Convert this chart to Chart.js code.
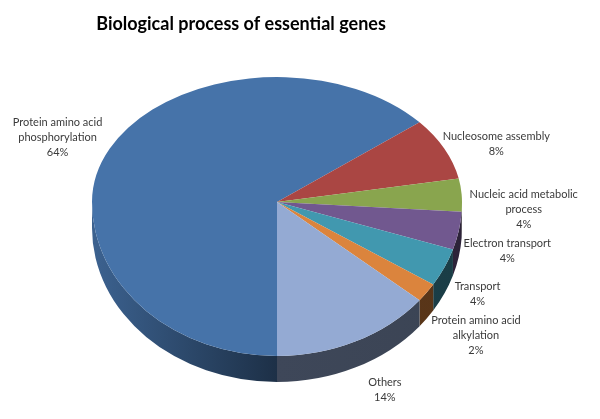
<!DOCTYPE html>
<html>
<head>
<meta charset="utf-8">
<title>Biological process of essential genes</title>
<script src="https://cdn.jsdelivr.net/npm/chart.js@4.4.1/dist/chart.umd.min.js"></script>
<style>
  html, body { margin: 0; padding: 0; background: #fff; }
  #wrap { width: 600px; height: 419px; }
</style>
</head>
<body>
<div id="wrap"><canvas id="pieChart" width="600" height="419"></canvas></div>
<script>
// Chart data
const chartTitle = 'Biological process of essential genes';
const categories = [
  ['Protein amino acid', 'phosphorylation'],
  ['Nucleosome assembly'],
  ['Nucleic acid metabolic', 'process'],
  ['Electron transport'],
  ['Transport'],
  ['Protein amino acid', 'alkylation'],
  ['Others'],
];
const percentages = [64, 8, 4, 4, 4, 2, 14];
const sliceColors = ['#4673a9', '#aa4643', '#89a54e', '#71588f', '#4198af', '#db843d', '#94aad3'];

// small nudges for the outside labels (dx, dy), Excel style placement
const labelNudges = [[0, -9], [-9, -3], [0, 16], [-3, 14], [3, 12], [-2, 24], [9, 19]];

// fake 3D look: squash the pie, a bit more on the far half (perspective), add a side wall
const TILT_UP = 125 / 185;
const TILT_DOWN = 154 / 185;
const DEPTH = 26;
const LABEL_FONT = '11px Lato';
const LINE_H = 15;

/**
 * Scale a hex colour towards black.
 */
function shade(hex, f) {
  const n = parseInt(hex.slice(1), 16);
  const r = Math.round(((n >> 16) & 255) * f);
  const g = Math.round(((n >> 8) & 255) * f);
  const b = Math.round((n & 255) * f);
  return `rgb(${r},${g},${b})`;
}

/**
 * Squash the context vertically around the pie centre.
 */
function squash(ctx, cy, k) {
  ctx.translate(0, cy * (1 - k));
  ctx.scale(1, k);
}

const pie3d = {
  id: 'pie3d',
  beforeDatasetsDraw(chart) {
    const ctx = chart.ctx;
    const arcs = chart.getDatasetMeta(0).data;
    if (!arcs.length) return;
    const cx = arcs[0].x;
    const cy = arcs[0].y;
    const r = arcs[0].outerRadius;
    const ry = r * TILT_DOWN;

    // side wall, only the front half (0..PI) is visible
    arcs.forEach((arc, i) => {
      for (let k = -1; k <= 1; k++) {
        const s = Math.max(arc.startAngle + k * 2 * Math.PI, 0);
        const e = Math.min(arc.endAngle + k * 2 * Math.PI, Math.PI);
        if (e <= s) continue;
        const grad = ctx.createLinearGradient(cx - r, 0, cx + r, 0);
        grad.addColorStop(0, shade(sliceColors[i], 0.85));
        grad.addColorStop(0.5, shade(sliceColors[i], 0.42));
        grad.addColorStop(1, shade(sliceColors[i], 0.4));
        ctx.save();
        ctx.beginPath();
        ctx.ellipse(cx, cy, r, ry, 0, s, e);
        ctx.ellipse(cx, cy + DEPTH, r, ry, 0, e, s, true);
        ctx.closePath();
        ctx.fillStyle = grad;
        ctx.fill();
        ctx.restore();
      }
    });

    // far half of the top face: the library draws it inside this transform
    ctx.save();
    ctx.beginPath();
    ctx.rect(0, 0, chart.width, cy);
    ctx.clip();
    squash(ctx, cy, TILT_UP);
  },
  afterDatasetsDraw(chart) {
    const ctx = chart.ctx;
    ctx.restore();
    const arcs = chart.getDatasetMeta(0).data;
    if (!arcs.length) return;
    const cy = arcs[0].y;
    // near half of the top face
    ctx.save();
    ctx.beginPath();
    ctx.rect(0, cy, chart.width, chart.height - cy);
    ctx.clip();
    squash(ctx, cy, TILT_DOWN);
    arcs.forEach((arc) => arc.draw(ctx));
    ctx.restore();
  },
  afterDraw(chart) {
    const ctx = chart.ctx;
    const arcs = chart.getDatasetMeta(0).data;
    ctx.save();

    // title
    ctx.fillStyle = '#000';
    ctx.font = 'bold 18px Lato';
    ctx.textAlign = 'center';
    ctx.textBaseline = 'middle';
    ctx.fillText(chartTitle, 241, 24);

    // outside labels: name lines + percentage
    ctx.font = LABEL_FONT;
    ctx.fillStyle = '#3a3a3a';
    arcs.forEach((arc, i) => {
      const mid = (arc.startAngle + arc.endAngle) / 2;
      const c = Math.cos(mid);
      const s = Math.sin(mid);
      const r = arc.outerRadius + 8;
      const ax = arc.x + r * c;
      const ay = arc.y + r * s * (s < 0 ? TILT_UP : TILT_DOWN) + (s > 0 ? DEPTH * s : 0);
      const lines = categories[i].concat([percentages[i] + '%']);
      const w = Math.max(...lines.map((t) => ctx.measureText(t).width));
      let centerX = ax;
      if (c > 0.3) centerX = ax + w / 2;
      else if (c < -0.3) centerX = ax - w / 2;
      centerX += labelNudges[i][0];
      const top = ay + labelNudges[i][1] - (lines.length - 1) * LINE_H / 2;
      lines.forEach((t, j) => {
        ctx.fillText(t, centerX, top + j * LINE_H);
      });
    });
    ctx.restore();
  },
};

const chart = new Chart(document.getElementById('pieChart').getContext('2d'), {
  type: 'pie',
  data: {
    labels: categories.map((c) => c.join(' ')),
    datasets: [
      {
        data: percentages,
        backgroundColor: sliceColors,
        borderWidth: 0,
        hoverOffset: 0,
        clip: false,
      },
    ],
  },
  options: {
    responsive: false,
    animation: false,
    events: [],
    rotation: 180,
    layout: {
      padding: { left: 92, right: 138, top: 17, bottom: 32 },
    },
    plugins: {
      legend: { display: false },
      tooltip: { enabled: false },
      title: { display: false },
    },
  },
  plugins: [pie3d],
});
</script>
</body>
</html>
